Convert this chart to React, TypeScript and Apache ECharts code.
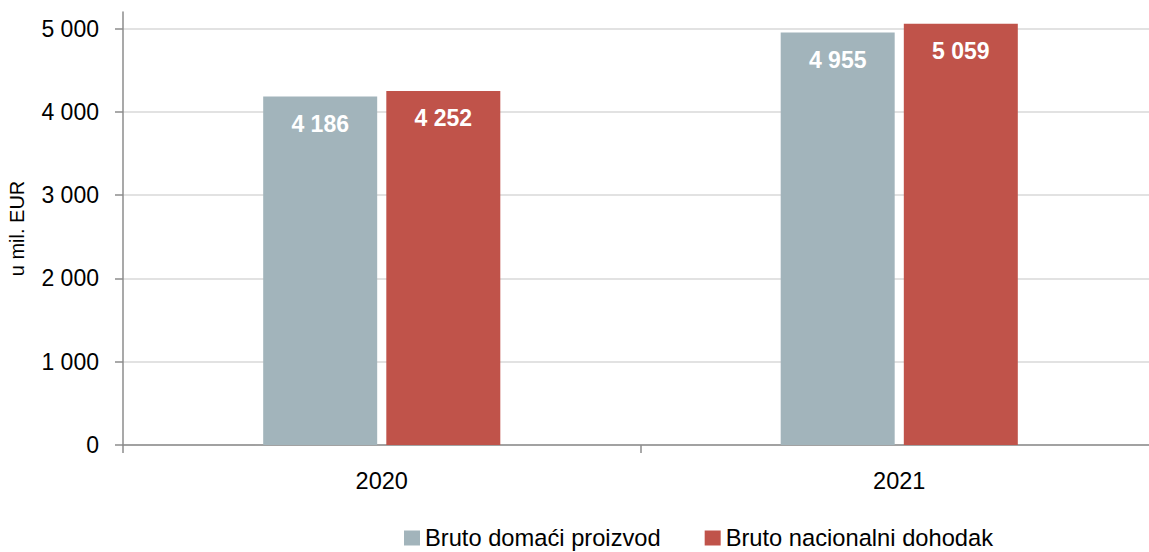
import React, { useEffect, useRef } from "react";
import * as echarts from "echarts";

const categories = ["2020", "2021"];
const seriesNames = ["Bruto domaći proizvod", "Bruto nacionalni dohodak"];
const bdpValues = [4186, 4955];
const bndValues = [4252, 5059];
const yTicks = [0, 1000, 2000, 3000, 4000, 5000];
const yMax = 5200;

const FONT = "'Liberation Sans', Arial, sans-serif";
const fmt = (v: number) => String(Math.round(v)).replace(/\B(?=(\d{3})+(?!\d))/g, " ");

export default function App() {
  const ref = useRef<HTMLDivElement>(null);
  useEffect(() => {
    if (!ref.current) return;
    const chart = echarts.init(ref.current, undefined, { renderer: "svg" });
    const label = {
      show: true,
      position: "insideTop" as const,
      distance: 16,
      color: "#ffffff",
      fontWeight: "bold" as const,
      fontSize: 23,
      fontFamily: FONT,
      formatter: (p: any) => fmt(p.value),
    };
    chart.setOption({
      animation: false,
      backgroundColor: "#ffffff",
      textStyle: { fontFamily: FONT },
      grid: { left: 123, top: 12, width: 1035, height: 433, outerBoundsMode: "none" },
      legend: {
        left: 404,
        top: 526,
        padding: 0,
        itemWidth: 16,
        itemHeight: 15,
        itemGap: 44,
        icon: "rect",
        textStyle: { fontSize: 23.7, color: "#000000", fontFamily: FONT },
        data: seriesNames,
      },
      xAxis: {
        type: "category",
        data: categories,
        axisLine: { lineStyle: { color: "#8c8c8c", width: 1.5 } },
        axisTick: { show: true, length: 8, lineStyle: { color: "#8c8c8c", width: 1.5 } },
        axisLabel: { fontSize: 23.5, color: "#000000", margin: 24, fontFamily: FONT },
      },
      yAxis: {
        type: "value",
        min: yTicks[0],
        max: yMax,
        interval: 1000,
        name: "u mil. EUR",
        nameLocation: "middle",
        nameGap: 96,
        nameTextStyle: { fontSize: 20, color: "#000000", fontFamily: FONT },
        axisLine: { show: true, lineStyle: { color: "#8c8c8c", width: 1.5 } },
        axisTick: {
          show: true,
          length: 8,
          customValues: yTicks,
          lineStyle: { color: "#8c8c8c", width: 1.5 },
        },
        axisLabel: {
          fontSize: 23,
          color: "#000000",
          margin: 24,
          fontFamily: FONT,
          customValues: yTicks,
          formatter: (v: number) => fmt(v),
        },
        splitLine: { lineStyle: { color: "#d9d9d9", width: 1.5 } },
      },
      series: [
        {
          name: seriesNames[0],
          type: "bar",
          data: bdpValues,
          barWidth: 114,
          barGap: "8%",
          itemStyle: { color: "#a2b4bb" },
          label,
        },
        {
          name: seriesNames[1],
          type: "bar",
          data: bndValues,
          barWidth: 114,
          barGap: "8%",
          itemStyle: { color: "#c0534a" },
          label,
        },
      ],
    });
    return () => chart.dispose();
  }, []);
  return (
    <div
      ref={ref}
      style={{ position: "fixed", left: 0, top: 0, width: 1149, height: 552, overflow: "hidden" }}
    />
  );
}
